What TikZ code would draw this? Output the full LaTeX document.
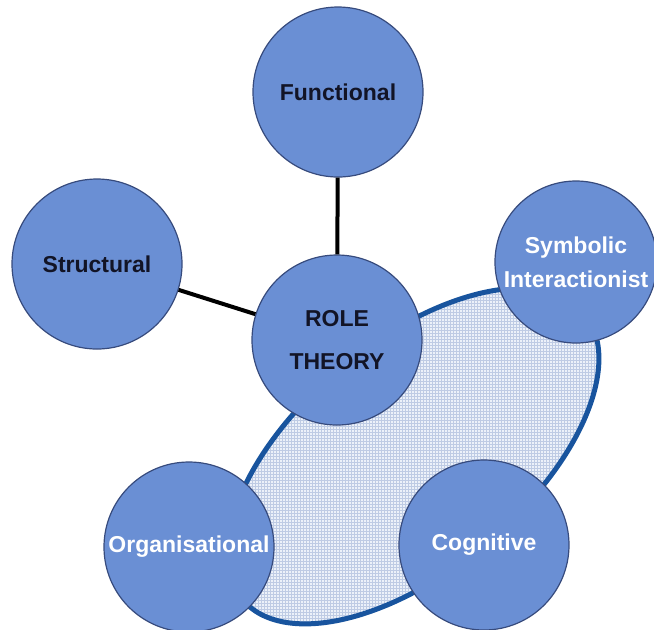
\documentclass[tikz,border=0pt]{standalone}
\usepackage{fontspec}
\setmainfont{Liberation Sans}
\usetikzlibrary{positioning}

\definecolor{circfill}{RGB}{106,143,212}
\definecolor{circline}{RGB}{55,75,125}
\definecolor{ringblue}{RGB}{24,84,158}
\definecolor{gridbg}{RGB}{236,241,249}
\definecolor{gridln}{RGB}{190,203,228}
\definecolor{darktext}{RGB}{18,20,38}

\begin{document}
\begin{tikzpicture}[
  x=0.5pt, y=-0.5pt,
  mycircle/.style={circle, draw=circline, line width=0.6pt, fill=circfill,
    minimum size=85pt, inner sep=0pt, align=center,
    font=\fontsize{11.5}{17}\selectfont\bfseries},
  darklabel/.style={mycircle, text=darktext},
  lightlabel/.style={mycircle, text=white},
  link/.style={draw=black, line width=2pt},
  myring/.style={draw=ringblue, line width=2.5pt}
]
  \useasboundingbox (0,0) rectangle (654,629);

  % shaded ellipse behind the lower circles
  \coordinate (ec) at (413,456);
  \begin{scope}
    \clip[rotate around={40:(ec)}] (ec) ellipse [x radius=111.5pt, y radius=57pt];
    \fill[gridbg] (150,250) rectangle (654,629);
    \draw[gridln, line width=0.3pt, step=1.5pt] (150,250) grid (654,629);
  \end{scope}
  \draw[myring, rotate around={40:(ec)}] (ec) ellipse [x radius=111.5pt, y radius=57pt];

  \node[darklabel, font=\fontsize{11.5}{21.5}\selectfont\bfseries] (role) at (337,340) {ROLE\\THEORY};
  \node[darklabel] (functional) at (338,92) {Functional};
  \node[darklabel] (structural) at (97,264) {Structural};
  \node[lightlabel, minimum size=81pt] (symbolic) at (576,262) {Symbolic\\Interactionist};
  \node[lightlabel] (organisational) at (189,547) {Organisational};
  \node[lightlabel] (cognitive) at (484,545) {Cognitive};

  \draw[link] (functional) -- (role);
  \draw[link] (structural) -- (role);
\end{tikzpicture}
\end{document}
